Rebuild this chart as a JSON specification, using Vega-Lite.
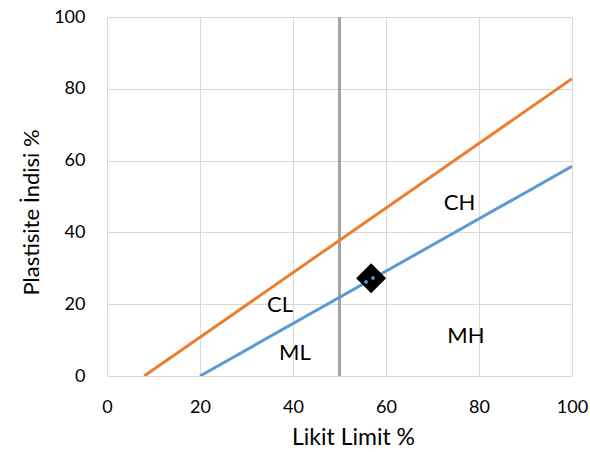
{
  "$schema": "https://vega.github.io/schema/vega-lite/v6.json",
  "width": 465,
  "height": 359,
  "autosize": "none",
  "padding": {"left": 107, "top": 17, "right": 18, "bottom": 76},
  "background": "white",
  "config": {
    "view": {"stroke": null},
    "font": "Lato",
    "axis": {
      "gridColor": "#d9d9d9",
      "gridWidth": 1,
      "domain": false,
      "ticks": false,
      "labelFlush": false,
      "labelFontSize": 18,
      "labelColor": "#000000",
      "titleFontWeight": "normal",
      "titleColor": "#000000",
      "labelFont": "Lato",
      "titleFont": "Lato"
    }
  },
  "datasets": {
    "lines": [
      {"series": "U", "ll": 8, "pi": 0},
      {"series": "U", "ll": 100, "pi": 82.8},
      {"series": "A", "ll": 20, "pi": 0},
      {"series": "A", "ll": 100, "pi": 58.4}
    ],
    "vline": [
      {"ll": 50, "pi": 0},
      {"ll": 50, "pi": 100}
    ],
    "sample": [
      {"ll": 56.8, "pi": 27.2}
    ],
    "dots": [
      {"ll": 55.7, "pi": 26.2},
      {"ll": 57.2, "pi": 27.3}
    ],
    "labels": [
      {"ll": 75.8, "pi": 48.3, "text": "CH"},
      {"ll": 37.2, "pi": 19.8, "text": "CL"},
      {"ll": 40.4, "pi": 6.4, "text": "ML"},
      {"ll": 77.2, "pi": 11.1, "text": "MH"}
    ]
  },
  "layer": [
    {
      "data": {"name": "vline"},
      "mark": {"type": "line", "color": "#A5A5A5", "strokeWidth": 3},
      "encoding": {
        "x": {"field": "ll", "type": "quantitative", "scale": {"domain": [0, 100], "nice": false}, "axis": {"values": [0, 20, 40, 60, 80, 100], "title": "Likit Limit %", "labelPadding": 22, "titlePadding": 10, "titleFontSize": 23, "labelFontSize": 18, "titleX": 246}},
        "y": {"field": "pi", "type": "quantitative", "scale": {"domain": [0, 100], "nice": false}, "axis": {"values": [0, 20, 40, 60, 80, 100], "title": "Plastisite İndisi %", "labelPadding": 22, "titlePadding": 10, "titleFontSize": 22, "labelFontSize": 18, "titleY": 195}}
      }
    },
    {
      "data": {"name": "lines"},
      "mark": {"type": "line", "strokeWidth": 3, "clip": true},
      "encoding": {
        "x": {"field": "ll", "type": "quantitative"},
        "y": {"field": "pi", "type": "quantitative"},
        "detail": {"field": "series"},
        "color": {"field": "series", "type": "nominal", "scale": {"domain": ["U", "A"], "range": ["#ED7D31", "#5B9BD5"]}, "legend": null}
      }
    },
    {
      "data": {"name": "sample"},
      "mark": {"type": "point", "shape": "diamond", "filled": true, "color": "#000000", "size": 900, "opacity": 1},
      "encoding": {
        "x": {"field": "ll", "type": "quantitative"},
        "y": {"field": "pi", "type": "quantitative"}
      }
    },
    {
      "data": {"name": "dots"},
      "mark": {"type": "circle", "color": "#5B9BD5", "size": 14, "opacity": 1},
      "encoding": {
        "x": {"field": "ll", "type": "quantitative"},
        "y": {"field": "pi", "type": "quantitative"}
      }
    },
    {
      "data": {"name": "labels"},
      "mark": {"type": "text", "fontSize": 22, "font": "Lato", "color": "#000000"},
      "encoding": {
        "x": {"field": "ll", "type": "quantitative"},
        "y": {"field": "pi", "type": "quantitative"},
        "text": {"field": "text"}
      }
    }
  ]
}
